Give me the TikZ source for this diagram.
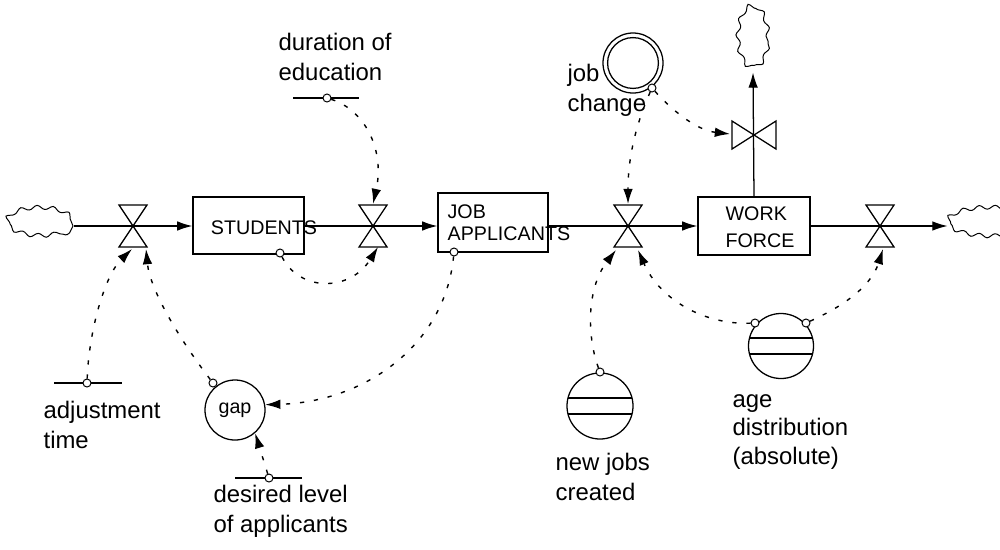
\documentclass[tikz,border=0pt]{standalone}
\usepackage{fontspec}
\setmainfont{Liberation Sans}
\usetikzlibrary{arrows.meta,shapes.geometric,decorations.pathmorphing,calc}
\newcommand\vvalve[1]{\draw (#1) -- ++(-14,-21) -- ++(28,0) -- cycle; \draw (#1) -- ++(-14,21) -- ++(28,0) -- cycle;}
\newcommand\hvalve[1]{\draw (#1) -- ++(-22,-14) -- ++(0,28) -- cycle; \draw (#1) -- ++(22,-14) -- ++(0,28) -- cycle;}
\begin{document}
\begin{tikzpicture}[x=0.025cm,y=-0.025cm,
 line width=0.9pt,
 flow/.style={-{Latex[length=0.38cm,width=0.24cm]}},
 info/.style={dash pattern=on 3pt off 7pt, -{Latex[length=0.38cm,width=0.24cm]}, line width=1pt},
 stock/.style={draw, rectangle, inner sep=0pt},
 cloudy/.style={draw, ellipse, inner sep=0pt, line width=0.7pt, decorate, decoration={snake, segment length=0.4cm, amplitude=0.05cm}},
 lbl/.style={anchor=base west, align=left, inner sep=0pt, font=\fontsize{17}{21}\selectfont},
 boxtxt/.style={inner sep=0pt, font=\fontsize{14}{16}\selectfont},
 tiny/.style={draw, circle, fill=white, inner sep=0pt, minimum size=0.2cm, line width=0.7pt},
 aux/.style={draw, circle, inner sep=0pt, minimum size=1.65cm},
 ]
\useasboundingbox (0,0) rectangle (1000,549);

% clouds
\node[cloudy, minimum width=1.65cm, minimum height=0.7cm] (cloudL) at (40,226) {};
\node[cloudy, minimum width=2.1cm, minimum height=0.7cm] (cloudR) at (990,226) {};
\node[cloudy, minimum width=0.75cm, minimum height=1.55cm] (cloudT) at (753,41) {};

% stocks
\node[stock, minimum width=2.775cm, minimum height=1.425cm] (stu) at (248.5,225.5) {};
\node[stock, minimum width=2.75cm, minimum height=1.475cm] (app) at (493,222.5) {};
\node[stock, minimum width=2.8cm, minimum height=1.45cm] (wf) at (754,226) {};
\node[boxtxt, anchor=base] (stuT) at (264,234) {STUDENTS};
\node[boxtxt, anchor=base west, align=left, font=\fontsize{14}{16}\selectfont] (appT) at (447,240.5) {JOB\\APPLICANTS};
\node[boxtxt, anchor=base west, align=left, font=\fontsize{14}{19.5}\selectfont] (wfT) at (725,247.5) {WORK\\FORCE};

% valves
\coordinate (v1) at (133,226);
\coordinate (v2) at (373,226);
\coordinate (v3) at (628,226);
\coordinate (v4) at (754,135);
\coordinate (v5) at (880,226);
\vvalve{v1}
\vvalve{v2}
\vvalve{v3}
\vvalve{v5}
\hvalve{v4}

% flows
\draw[flow] (cloudL.east |- v1) -- (stu.west |- v1);
\draw[flow] (stu.east |- v2) -- (app.west |- v2);
\draw[flow] (app.east |- v3) -- (wf.west |- v3);
\draw[flow] (wf.east |- v5) -- (cloudR.west |- v5);
\draw[flow] (wf.north) -- (cloudT.south);

% auxiliaries
\node[aux, minimum size=1.5cm, font=\fontsize{14}{16}\selectfont] (gap) at (235,410) {gap};
\node[aux] (nj) at (600,406) {};
\draw ($(nj.center)+(-32,-8)$) -- ($(nj.center)+(32,-8)$);
\draw ($(nj.center)+(-32,8)$) -- ($(nj.center)+(32,8)$);
\node[aux, minimum size=1.625cm] (age) at (781,346) {};
\draw ($(age.center)+(-31.5,-8)$) -- ($(age.center)+(31.5,-8)$);
\draw ($(age.center)+(-31.5,8)$) -- ($(age.center)+(31.5,8)$);
\node[aux, minimum size=1.5cm] (jc) at (633,63) {};
\node[draw, circle, inner sep=0pt, minimum size=1.27cm] (jcin) at (633,63) {};

% parameters
\coordinate (durA) at (293,98); \coordinate (durB) at (359,98);
\draw (durA) -- (durB);
\coordinate (adjA) at (54,383); \coordinate (adjB) at (122,383);
\draw (adjA) -- (adjB);
\coordinate (desA) at (235,478); \coordinate (desB) at (302,478);
\draw (desA) -- (desB);

% small circles
\node[tiny] (durc) at (327,98) {};
\node[tiny] (adjc) at (87,383) {};
\node[tiny] (desc) at (269,478) {};
\node[tiny] (stuc) at (280,253) {};
\node[tiny] (appc) at (454,252) {};
\node[tiny] (gapc) at (213,383) {};
\node[tiny] (jcc) at (652,88) {};
\node[tiny] (njc) at (600,372) {};
\node[tiny] (agel) at (755,323) {};
\node[tiny] (ager) at (806,323) {};

% control end points
\coordinate (v1a) at (132,249);
\coordinate (v1b) at (146,249);
\coordinate (v2t) at (373,204);
\coordinate (v2b) at (378,247);
\coordinate (v3t) at (628,204);
\coordinate (v3l) at (616,250);
\coordinate (v3r) at (638,250);
\coordinate (v4l) at (730,134);
\coordinate (v5b) at (883,249);

% information links
\draw[info] (adjc) .. controls (89,330) and (105,275) .. (v1a);
\draw[info] (gapc) .. controls (180,340) and (150,290) .. (v1b);
\draw[info] (appc) .. controls (445,345) and (365,402) .. (gap.10);
\draw[info] (desc) -- (gap.-49);
\draw[info] (stuc) .. controls (300,292) and (350,292) .. (v2b);
\draw[info] (durc) .. controls (365,110) and (385,150) .. (v2t);
\draw[info] (jcc) .. controls (670,108) and (695,130) .. (v4l);
\draw[info] (jcc) .. controls (640,115) and (628,150) .. (v3t);
\draw[info] (njc) .. controls (588,340) and (585,290) .. (v3l);
\draw[info] (agel) .. controls (705,325) and (660,300) .. (v3r);
\draw[info] (ager) .. controls (835,310) and (870,290) .. (v5b);

% labels
\node[lbl] (durL) at (278,80.5) {duration of\\education};
\node[lbl] (jcL) at (567,111.5) {job\\change};
\node[lbl] (adjL) at (43,448.5) {adjustment\\time};
\node[lbl] (desL) at (213,532.5) {desired level\\of applicants};
\node[lbl] (njL) at (555,500.5) {new jobs\\created};
\node[lbl, font=\fontsize{17}{20}\selectfont] (ageL) at (732,464) {age\\distribution\\(absolute)};
\end{tikzpicture}
\end{document}
